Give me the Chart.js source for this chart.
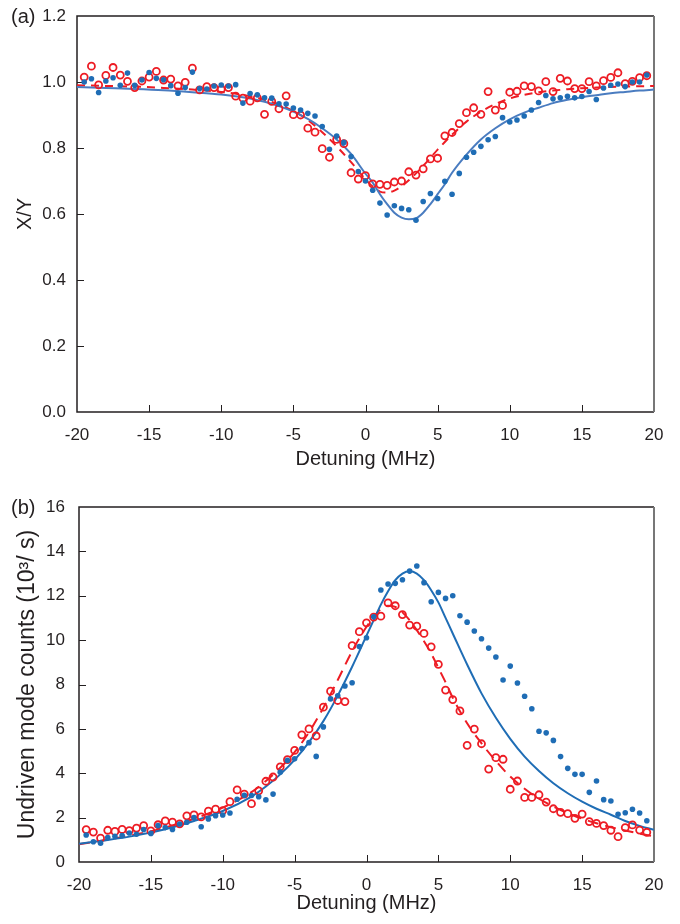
<!DOCTYPE html>
<html>
<head>
<meta charset="utf-8">
<script src="https://cdn.jsdelivr.net/npm/chart.js@4.4.0/dist/chart.umd.min.js"></script>
<style>
  html, body { margin: 0; padding: 0; background: #fff; }
  canvas { position: absolute; left: 0; }
  #chartA { top: 0; }
  #chartB { top: 480px; }
</style>
</head>
<body>
<canvas id="chartA" width="680" height="480"></canvas>
<canvas id="chartB" width="680" height="444"></canvas>
<script>
/* ── data ─────────────────────────────────────────────────── */

// detuning of every measured point (MHz)
const detuning = [-19.5,-19,-18.5,-18,-17.5,-17,-16.5,-16,-15.5,-15,-14.5,-14,-13.5,-13,-12.5,-12,-11.5,-11,-10.5,-10,
  -9.5,-9,-8.5,-8,-7.5,-7,-6.5,-6,-5.5,-5,-4.5,-4,-3.5,-3,-2.5,-2,-1.5,-1,-0.5,0,
  0.5,1,1.5,2,2.5,3,3.5,4,4.5,5,5.5,6,6.5,7,7.5,8,8.5,9,9.5,10,
  10.5,11,11.5,12,12.5,13,13.5,14,14.5,15,15.5,16,16.5,17,17.5,18,18.5,19,19.5];

// (a) X/Y ratio
const ratioBlue = [1.000,1.010,0.968,1.003,1.013,0.990,1.027,0.990,1.006,1.029,1.011,1.007,0.989,0.966,0.983,1.030,0.980,0.979,0.988,0.991,
  0.988,0.992,0.936,0.965,0.961,0.952,0.951,0.934,0.933,0.921,0.915,0.905,0.897,0.865,0.796,0.836,0.817,0.774,0.729,0.700,
  0.672,0.633,0.597,0.625,0.617,0.613,0.581,0.638,0.662,0.647,0.699,0.660,0.723,0.772,0.787,0.805,0.825,0.835,0.892,0.879,
  0.885,0.897,0.915,0.938,0.959,0.949,0.952,0.957,0.952,0.956,0.971,0.947,0.982,0.990,0.994,0.986,1.000,1.000,1.021];
const ratioRed = [1.015,1.048,0.991,1.020,1.044,1.021,1.002,0.983,1.003,1.015,1.032,1.006,1.009,0.988,0.999,1.042,0.976,0.986,0.983,0.978,
  0.983,0.957,0.951,0.942,0.952,0.902,0.941,0.919,0.958,0.901,0.900,0.860,0.848,0.798,0.772,0.826,0.813,0.725,0.706,0.716,
  0.691,0.690,0.687,0.697,0.700,0.728,0.718,0.737,0.767,0.769,0.837,0.847,0.874,0.907,0.922,0.902,0.971,0.915,0.929,0.969,
  0.972,0.988,0.986,0.973,1.001,0.971,1.011,1.003,0.980,0.980,1.001,0.988,1.004,1.014,1.028,0.995,1.002,1.013,1.019];

// (b) undriven mode counts (10^3 / s)
const countsBlue = [1.22,0.91,0.85,1.10,1.16,1.19,1.31,1.25,1.46,1.29,1.64,1.55,1.47,1.71,1.79,2.00,1.59,1.94,2.09,2.12,
  2.21,2.83,3.01,3.00,2.94,2.80,3.06,4.05,4.58,4.65,5.11,5.38,4.76,6.09,7.35,7.49,7.93,8.08,9.71,10.11,
  11.05,12.26,12.53,12.56,12.72,13.11,13.34,12.59,11.73,12.15,11.88,12.00,11.10,10.81,10.41,10.06,9.64,9.24,8.20,8.83,
  8.07,7.47,6.91,5.89,5.82,5.48,4.75,4.22,3.95,3.95,3.14,3.65,2.81,2.75,2.15,2.22,2.38,2.21,1.86];
const countsRed = [1.46,1.35,1.08,1.43,1.38,1.47,1.41,1.53,1.64,1.40,1.68,1.85,1.80,1.72,2.08,2.12,2.03,2.29,2.38,2.32,
  2.72,3.25,3.06,2.63,3.21,3.64,3.83,4.29,4.61,5.03,5.73,6.00,5.68,6.98,7.70,7.28,7.23,9.75,10.38,10.78,
  11.04,11.08,11.68,11.55,11.15,10.68,10.63,10.30,9.70,8.91,7.75,7.32,6.81,5.26,5.99,5.33,4.19,4.70,4.63,3.28,
  3.65,2.91,2.91,3.03,2.70,2.40,2.24,2.18,1.97,2.16,1.82,1.74,1.64,1.43,1.14,1.55,1.67,1.44,1.34];

// fitted curves, sampled where they were read
const fitDetuning = [-20,-18,-16,-14,-12,-10,-8,-7,-6,-5,-4,-3,-2,-1,0,0.5,1,1.5,2,2.5,3,3.5,4,4.5,5,5.5,6,7,8,9,10,11,12,13,14,15,16,17,18,19,20];
const ratioFitBlue = [0.985,0.982,0.979,0.975,0.969,0.962,0.950,0.940,0.927,0.910,0.888,0.860,0.826,0.782,0.722,0.695,0.660,0.630,0.604,0.589,0.584,0.587,0.604,0.630,0.660,0.690,0.725,0.780,0.826,0.860,0.887,0.907,0.922,0.936,0.946,0.954,0.960,0.966,0.970,0.974,0.977];
const ratioFitRed = [0.990,0.988,0.986,0.982,0.977,0.970,0.957,0.946,0.932,0.912,0.885,0.848,0.805,0.757,0.705,0.683,0.668,0.665,0.671,0.684,0.702,0.723,0.746,0.770,0.795,0.818,0.840,0.880,0.910,0.933,0.950,0.961,0.969,0.974,0.978,0.981,0.983,0.985,0.986,0.987,0.988];
const countsFitBlue = [0.82,0.99,1.20,1.48,1.85,2.30,2.95,3.40,3.95,4.60,5.40,6.35,7.50,8.80,10.20,10.90,11.60,12.20,12.70,13.00,13.10,13.00,12.70,12.25,11.70,11.00,10.30,8.90,7.60,6.50,5.55,4.75,4.10,3.55,3.10,2.72,2.40,2.13,1.85,1.63,1.45];
const countsFitRed = [0.80,1.00,1.25,1.55,1.95,2.45,3.15,3.65,4.25,4.95,5.85,6.95,8.20,9.50,10.60,11.05,11.40,11.55,11.50,11.25,10.90,10.45,9.95,9.40,8.75,8.10,7.40,6.25,5.35,4.55,3.85,3.30,2.85,2.50,2.20,1.95,1.75,1.57,1.42,1.28,1.15];

/* ── styling ──────────────────────────────────────────────── */

const INK = '#231f20';
const BLUE = '#1f6db5';
const RED = '#ed1c24';
const FONT = "'Liberation Sans', Arial, sans-serif";

Chart.defaults.font.family = FONT;
Chart.defaults.color = INK;
Chart.defaults.animation = false;
Chart.defaults.plugins.legend.display = false;
Chart.defaults.plugins.tooltip.enabled = false;

const pairs = (xs, ys) => xs.map((x, i) => ({ x: x, y: ys[i] }));

// box around the plot, inward tick marks, panel letter
const framePlugin = {
  id: 'frame',
  beforeDatasetsDraw(chart) {
    const { ctx, chartArea: { left, right, top, bottom }, scales: { x, y } } = chart;
    ctx.save();
    ctx.strokeStyle = INK;
    ctx.lineWidth = 1;
    ctx.beginPath();
    x.ticks.forEach(t => {
      const px = Math.round(x.getPixelForValue(t.value)) + 0.5;
      if (px > left + 2 && px < right - 2) { ctx.moveTo(px, bottom); ctx.lineTo(px, bottom - 7); }
    });
    y.ticks.forEach(t => {
      const py = Math.round(y.getPixelForValue(t.value)) + 0.5;
      if (py > top + 2 && py < bottom - 2) { ctx.moveTo(left, py); ctx.lineTo(left + 7, py); }
    });
    ctx.stroke();

    ctx.lineWidth = 1.5;
    ctx.beginPath();
    ctx.moveTo(right, top);
    ctx.lineTo(left, top);
    ctx.lineTo(left, bottom);
    ctx.lineTo(right, bottom);
    ctx.stroke();
    ctx.strokeStyle = '#777';
    ctx.lineWidth = 2;
    ctx.beginPath();
    ctx.moveTo(right, top);
    ctx.lineTo(right, bottom);
    ctx.stroke();
    ctx.restore();
  },
  afterDraw(chart, args, opts) {
    const { ctx, chartArea: { top } } = chart;
    ctx.save();
    ctx.fillStyle = INK;
    ctx.font = '20px ' + FONT;
    ctx.textAlign = 'left';
    ctx.textBaseline = 'middle';
    ctx.fillText(opts.label, 11, top + 1);
    ctx.restore();
  }
};

function makePanel(canvasId, cfg) {
  const ctx = document.getElementById(canvasId);
  return new Chart(ctx, {
    type: 'scatter',
    data: {
      datasets: [
        {
          data: pairs(detuning, cfg.blue),
          pointRadius: 2.8,
          pointBorderWidth: 0,
          backgroundColor: BLUE,
          borderColor: BLUE,
        },
        {
          data: pairs(detuning, cfg.red),
          pointRadius: 3.5,
          pointBorderWidth: 1.8,
          backgroundColor: 'rgba(0,0,0,0)',
          borderColor: RED,
        },
        {
          data: pairs(fitDetuning, cfg.fitBlue),
          showLine: true,
          pointRadius: 0,
          borderColor: cfg.lineBlue,
          borderWidth: 2,
          cubicInterpolationMode: 'monotone',
        },
        {
          data: pairs(fitDetuning, cfg.fitRed),
          showLine: true,
          pointRadius: 0,
          borderColor: RED,
          borderWidth: 2,
          borderDash: cfg.dash,
          cubicInterpolationMode: 'monotone',
        },
      ]
    },
    options: {
      responsive: false,
      layout: { padding: { top: cfg.padTop, right: 26, bottom: 0, left: 0 } },
      plugins: { frame: { label: cfg.label } },
      scales: {
        x: {
          type: 'linear',
          min: -20,
          max: 20,
          grid: { display: false, drawTicks: false, tickLength: 0 },
          border: { display: false },
          ticks: { stepSize: 5, padding: 13, maxRotation: 0, font: { size: 17 } },
          title: { display: true, text: 'Detuning (MHz)', font: { size: 20 }, padding: { top: 0, bottom: 9 } },
          afterFit: (scale) => { scale.height = cfg.xHeight; },
        },
        y: {
          min: cfg.yMin,
          max: cfg.yMax,
          grid: { display: false, drawTicks: false, tickLength: 0 },
          border: { display: false },
          ticks: { stepSize: cfg.yStep, padding: cfg.yPad, font: { size: 17 }, callback: cfg.yFormat },
          title: { display: true, text: cfg.yTitle, font: { size: cfg.yTitleSize }, padding: { top: cfg.yTitlePad, bottom: 0 } },
          afterFit: (scale) => {
            scale.width = cfg.yWidth;
            // let the layout padding alone set the top of the plot
            scale.paddingTop = 0;
            scale.paddingBottom = 0;
          },
        },
      },
    },
    plugins: [framePlugin],
  });
}

makePanel('chartA', {
  label: '(a)',
  blue: ratioBlue, red: ratioRed, fitBlue: ratioFitBlue, fitRed: ratioFitRed,
  lineBlue: '#4a7cc0', dash: [8, 6],
  padTop: 16, xHeight: 68, yWidth: 77, yPad: 11,
  yMin: 0, yMax: 1.2, yStep: 0.2, yFormat: (v) => v.toFixed(1),
  yTitle: 'X/Y', yTitleSize: 20, yTitlePad: 13,
});

makePanel('chartB', {
  label: '(b)',
  blue: countsBlue, red: countsRed, fitBlue: countsFitBlue, fitRed: countsFitRed,
  lineBlue: BLUE, dash: [11, 7],
  padTop: 27, xHeight: 62, yWidth: 79, yPad: 14,
  yMin: 0, yMax: 16, yStep: 2, yFormat: (v) => v,
  yTitle: 'Undriven mode counts (10³/ s)', yTitleSize: 23, yTitlePad: 14,
});
</script>
</body>
</html>
